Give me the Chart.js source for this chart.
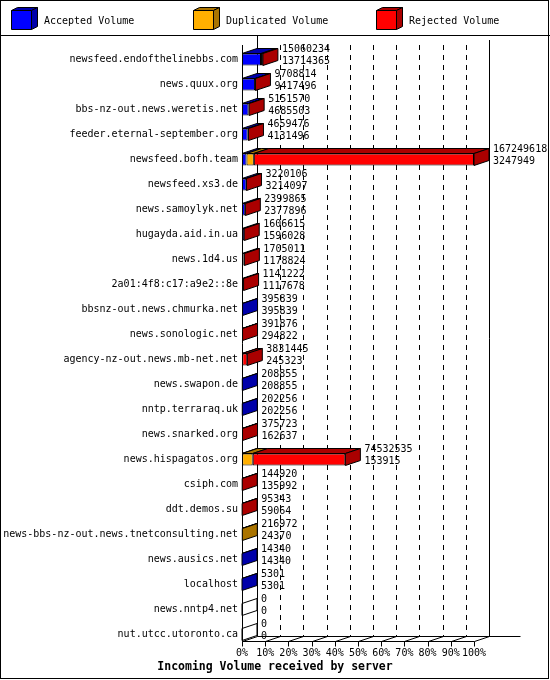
<!DOCTYPE html>
<html>
<head>
<meta charset="utf-8">
<title>Incoming Volume received by server</title>
<script src="https://cdn.jsdelivr.net/npm/chart.js@4.4.1/dist/chart.umd.min.js"></script>
<style>
    html, body { margin: 0; padding: 0; background: #fff; }
    canvas { display: block; }
</style>
</head>
<body>
<canvas id="volumeChart" width="550" height="680"></canvas>
<script>
const servers = [
    'newsfeed.endofthelinebbs.com', 'news.quux.org', 'bbs-nz-out.news.weretis.net',
    'feeder.eternal-september.org', 'newsfeed.bofh.team', 'newsfeed.xs3.de',
    'news.samoylyk.net', 'hugayda.aid.in.ua', 'news.1d4.us', '2a01:4f8:c17:a9e2::8e',
    'bbsnz-out.news.chmurka.net', 'news.sonologic.net', 'agency-nz-out.news.mb-net.net',
    'news.swapon.de', 'nntp.terraraq.uk', 'news.snarked.org', 'news.hispagatos.org',
    'csiph.com', 'ddt.demos.su', 'news-bbs-nz-out.news.tnetconsulting.net',
    'news.ausics.net', 'localhost', 'news.nntp4.net', 'nut.utcc.utoronto.ca'
];
const totalVolume = [
    15060234, 9708814, 5151570, 4659476, 167249618, 3220106, 2399865, 1606615,
    1705011, 1141222, 395839, 391876, 3831445, 208855, 202256, 375723, 74532535,
    144920, 95343, 216972, 14340, 5301, 0, 0
];
const acceptedVolume = [
    13714365, 9417496, 4685503, 4131496, 3247949, 3214097, 2377896, 1596028,
    1178824, 1117678, 395839, 294822, 245323, 208855, 202256, 162637, 153915,
    135992, 59064, 24370, 14340, 5301, 0, 0
];
const duplicatedVolume = [
    0, 0, 0, 0, 5300000, 0, 0, 0,
    0, 0, 0, 0, 0, 0, 0, 0, 7600000,
    0, 0, 192602, 0, 0, 0, 0
];
const rejectedVolume = [
    1345869, 291318, 466067, 527980, 158701669, 6009, 21969, 10587,
    526187, 23544, 0, 97054, 3586122, 0, 0, 213086, 66778620,
    8928, 36279, 0, 0, 0, 0, 0
];
const tickPercents = [0, 10, 20, 30, 40, 50, 60, 70, 80, 90, 100];
const chartTitle = 'Incoming Volume received by server';

const FRONT_COLORS = ['#0000FF', '#FFAF00', '#FF0000'];
const SIDE_COLORS = ['#0000AA', '#AA7400', '#AA0000'];
const FONT = '"DejaVu Sans Mono", "Liberation Mono", monospace';
const DX = 15;
const DY = 5;
const maxVolume = Math.max(...totalVolume);

function seg(ctx, x1, y1, x2, y2) {
    ctx.beginPath();
    ctx.moveTo(x1, y1);
    ctx.lineTo(x2, y2);
    ctx.stroke();
}

function quad(ctx, pts, fill) {
    ctx.beginPath();
    ctx.moveTo(pts[0][0], pts[0][1]);
    for (let k = 1; k < pts.length; k++) ctx.lineTo(pts[k][0], pts[k][1]);
    ctx.closePath();
    if (fill) {
        ctx.fillStyle = fill;
        ctx.fill();
    }
    ctx.stroke();
}

// back walls, dashed grid and floor of the 3d box
const frame3d = {
    id: 'frame3d',
    beforeDatasetsDraw(chart) {
        const { ctx, chartArea: a, scales: { x } } = chart;
        const floor = Math.round(a.bottom - 6) + 0.5;
        const backLeft = Math.round(a.left) + DX + 0.5;
        const backRight = Math.round(a.right) + DX + 0.5;
        ctx.save();
        ctx.strokeStyle = '#000';
        ctx.lineWidth = 1;

        ctx.setLineDash([5, 5]);
        x.ticks.forEach((t, k) => {
            if (k === 0 || k === x.ticks.length - 1) return;
            const px = Math.round(x.getPixelForValue(t.value)) + DX + 0.5;
            seg(ctx, px, 45, px, floor - DY);
        });
        ctx.setLineDash([]);

        seg(ctx, backLeft, 36, backLeft, floor - DY);
        seg(ctx, backRight, 40, backRight, floor - DY);
        seg(ctx, backLeft, floor - DY, backRight + 31, floor - DY);

        seg(ctx, Math.round(a.left) + 0.5, floor, Math.round(a.right) + 0.5, floor);
        x.ticks.forEach(t => {
            const px = Math.round(x.getPixelForValue(t.value)) + 0.5;
            seg(ctx, px, floor, px, floor + 5);
            seg(ctx, px, floor, px + DX, floor - DY);
        });
        seg(ctx, Math.round(a.left) + 0.5, 45, Math.round(a.left) + 0.5, floor);
        ctx.restore();
    },
    afterDatasetsDraw(chart) {
        const { ctx } = chart;
        const metas = chart.data.datasets.map((d, k) => chart.getDatasetMeta(k));
        ctx.save();
        ctx.strokeStyle = '#000';
        ctx.lineWidth = 1;
        ctx.font = '10px ' + FONT;
        ctx.textBaseline = 'middle';
        ctx.textAlign = 'left';

        servers.forEach((name, i) => {
            let last = -1;
            let end = null;
            let top = 0, bottom = 0, cy = 0;
            metas.forEach((meta, k) => {
                const el = meta.data[i];
                top = el.y - el.height / 2;
                bottom = el.y + el.height / 2;
                cy = el.y;
                const xs = Math.min(el.base, el.x);
                const xe = Math.max(el.base, el.x);
                if (end === null) end = xs;
                if (chart.data.datasets[k].data[i] > 0) {
                    quad(ctx, [[xs, top], [xe, top], [xe + DX, top - DY], [xs + DX, top - DY]], SIDE_COLORS[k]);
                    last = k;
                    end = xe;
                }
            });
            const sideFill = last >= 0 ? SIDE_COLORS[last] : null;
            quad(ctx, [[end, top], [end + DX, top - DY], [end + DX, bottom - DY], [end, bottom]], sideFill);

            ctx.fillStyle = '#000';
            ctx.fillText(String(totalVolume[i]), end + DX + 4, cy - 10);
            ctx.fillText(String(acceptedVolume[i]), end + DX + 4, cy + 1.5);
        });
        ctx.restore();
    },
    afterDraw(chart) {
        const { ctx, width, height } = chart;
        const iconX = [11, 193, 376];
        ctx.save();
        ctx.strokeStyle = '#000';
        ctx.lineWidth = 1;
        ctx.font = '10px ' + FONT;
        ctx.textBaseline = 'middle';
        ctx.textAlign = 'left';
        chart.data.datasets.forEach((ds, k) => {
            const x0 = iconX[k] + 0.5;
            const y0 = 10.5;
            quad(ctx, [[x0, y0], [x0 + 20, y0], [x0 + 26, y0 - 3], [x0 + 6, y0 - 3]], SIDE_COLORS[k]);
            quad(ctx, [[x0 + 20, y0], [x0 + 26, y0 - 3], [x0 + 26, y0 + 16], [x0 + 20, y0 + 19]], SIDE_COLORS[k]);
            quad(ctx, [[x0, y0], [x0 + 20, y0], [x0 + 20, y0 + 19], [x0, y0 + 19]], FRONT_COLORS[k]);
            ctx.fillStyle = '#000';
            ctx.fillText(ds.label, iconX[k] + 33, 21);
        });

        ctx.font = 'bold 11.5px ' + FONT;
        ctx.textAlign = 'center';
        ctx.fillText(chartTitle, width / 2, 667);

        seg(ctx, 0, 35.5, width, 35.5);
        ctx.strokeRect(0.5, 0.5, width - 2, height - 2);
        ctx.restore();
    }
};

const ctx = document.getElementById('volumeChart').getContext('2d');
new Chart(ctx, {
    type: 'bar',
    data: {
        labels: servers,
        datasets: [
            { label: 'Accepted Volume', data: acceptedVolume, backgroundColor: FRONT_COLORS[0] },
            { label: 'Duplicated Volume', data: duplicatedVolume, backgroundColor: FRONT_COLORS[1] },
            { label: 'Rejected Volume', data: rejectedVolume, backgroundColor: FRONT_COLORS[2] }
        ].map(ds => Object.assign(ds, {
            borderColor: '#000',
            borderWidth: 1,
            borderSkipped: false,
            barPercentage: 0.48,
            categoryPercentage: 1
        }))
    },
    options: {
        indexAxis: 'y',
        responsive: false,
        animation: false,
        devicePixelRatio: 1,
        layout: { padding: { left: 0, right: 76, top: 47, bottom: 20 } },
        scales: {
            x: {
                stacked: true,
                min: 0,
                max: maxVolume,
                grid: { display: false, drawTicks: false },
                border: { display: false },
                afterBuildTicks: s => { s.ticks = tickPercents.map(p => ({ value: maxVolume * p / 100 })); },
                afterFit: s => { s.height = 13; },
                ticks: {
                    color: '#000',
                    font: { family: FONT, size: 10 },
                    padding: 0,
                    maxRotation: 0,
                    autoSkip: false,
                    callback: (v, idx) => tickPercents[idx] + '%'
                }
            },
            y: {
                stacked: true,
                grid: { display: false, drawTicks: false },
                border: { display: false },
                afterFit: s => { s.width = 242; },
                ticks: {
                    color: '#000',
                    font: { family: FONT, size: 10 },
                    padding: 4,
                    autoSkip: false
                }
            }
        },
        plugins: {
            legend: { display: false },
            tooltip: { enabled: false },
            title: { display: false }
        }
    },
    plugins: [frame3d]
});
</script>
</body>
</html>
